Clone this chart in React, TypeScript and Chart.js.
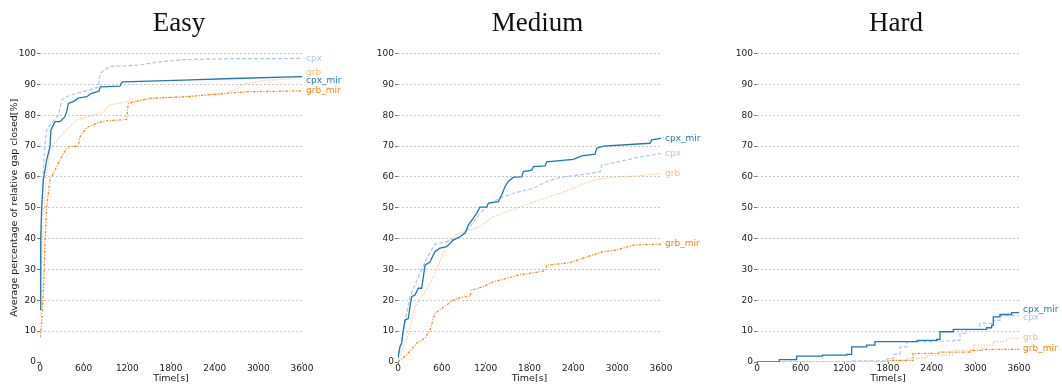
import React, { useEffect, useRef } from 'react';
import { Chart, registerables } from 'chart.js';

Chart.register(...registerables);

// ---------- data ----------
const panelTitles = ['Easy', 'Medium', 'Hard'];
const seriesNames = ['cpx_mir', 'cpx', 'grb_mir', 'grb'];
const xTickStep = 600;
const xMax = 3600;
const yTickStep = 10;
const yMax = 100;
const xAxisTitle = 'Time[s]';
const yAxisTitle = 'Average percentage of relative gap closed[%]';

// Easy
const easyCpxMirT = [0, 10, 23, 46, 92, 137, 150, 206, 275, 343, 370, 389, 458, 526, 641, 710, 779, 810, 830, 1099, 1120, 1145, 1969, 2656, 3600];
const easyCpxMirV = [17, 40, 50.3, 59, 65.5, 69.8, 75.2, 77.9, 77.9, 79.5, 81.5, 83.8, 84.4, 85.5, 86, 87.1, 87.6, 87.8, 89.2, 89.4, 90.5, 90.8, 91.4, 91.9, 92.5];
const easyCpxT = [0, 20, 46, 69, 92, 137, 252, 298, 366, 504, 687, 801, 815, 830, 962, 1191, 1374, 1649, 1969, 2600, 3600];
const easyCpxV = [20, 45, 62, 70.9, 75.2, 76.8, 80, 84.9, 86, 87.1, 88.2, 89.2, 92, 93.6, 95.8, 96, 96.3, 97.3, 98, 98.3, 98.4];
const easyGrbMirT = [0, 20, 50, 69, 92, 137, 229, 320, 389, 526, 550, 641, 779, 916, 1191, 1205, 1213, 1511, 2015, 2565, 2840, 3600];
const easyGrbMirV = [8, 12, 25, 39.5, 50.3, 59, 63.3, 67.6, 69.8, 70, 73, 76, 77.4, 78.2, 78.6, 82, 83.8, 85.5, 86, 87.1, 87.6, 87.9];
const easyGrbT = [0, 30, 60, 92, 137, 252, 366, 504, 733, 870, 962, 1191, 1603, 2015, 2565, 2840, 3115, 3435, 3600];
const easyGrbV = [15, 40, 52, 61.1, 68.7, 72.5, 75.2, 78.4, 80, 81.1, 83.3, 84.4, 85.5, 86, 87.1, 90.3, 91.4, 91.7, 92.6];

// Medium
const medCpxMirT = [0, 27, 50, 73, 96, 141, 164, 187, 233, 278, 324, 347, 370, 438, 507, 575, 667, 757, 849, 917, 963, 1031, 1077, 1122, 1214, 1237, 1374, 1419, 1465, 1510, 1579, 1693, 1716, 1831, 1853, 2013, 2036, 2401, 2515, 2697, 2720, 2811, 3450, 3473, 3600];
const medCpxMirV = [1.5, 5, 6, 10.4, 13.6, 14.1, 17.9, 21.2, 21.7, 23.9, 23.9, 27.6, 31.4, 32.5, 35.8, 36.9, 37.4, 39.5, 40.6, 41.7, 44.4, 46.6, 48.2, 50.2, 50.2, 51.5, 52, 54.1, 56.8, 58.5, 59.9, 60, 61.7, 62.2, 63.3, 63.6, 64.9, 65.7, 66.8, 67.4, 69.3, 70, 70.9, 72, 72.5];
const medCpxT = [0, 50, 164, 301, 393, 507, 667, 849, 986, 1122, 1259, 1396, 1579, 1853, 2036, 2218, 2629, 2766, 2789, 3131, 3268, 3600];
const medCpxV = [1, 7.1, 21.2, 28.7, 33.6, 38.2, 39, 40.6, 43.9, 48.2, 51.4, 53.1, 54.7, 56.3, 58.5, 59.8, 61.1, 61.7, 63.8, 65.5, 66.3, 67.6];
const medGrbMirT = [0, 119, 256, 370, 438, 507, 575, 667, 757, 849, 986, 1008, 1168, 1305, 1488, 1670, 1853, 2013, 2036, 2354, 2583, 2811, 2994, 3222, 3542, 3600];
const medGrbMirV = [0.1, 2.3, 6.1, 7.7, 10.4, 15.8, 16.9, 18.5, 20.1, 20.8, 21.4, 23.3, 24.4, 26, 27.1, 28.4, 28.9, 29.6, 31.4, 32.2, 34.1, 35.8, 36.3, 37.9, 38.2, 38.2];
const medGrbT = [0, 73, 141, 233, 324, 415, 507, 598, 667, 800, 986, 1122, 1305, 1488, 1670, 1944, 2218, 2400, 2492, 2674, 2948, 3268, 3600];
const medGrbV = [0.5, 5, 9.3, 17.9, 21.2, 24.4, 28.7, 34.1, 38.5, 41.5, 42.8, 43.9, 47.1, 48.7, 50.3, 52.5, 54.7, 56.3, 57.4, 59, 59.9, 60.3, 61.1];

// Hard (step events)
const hardCpxMirT = [0, 306, 545, 900, 1232, 1301, 1507, 1621, 2200, 2469, 2514, 2697, 3155, 3224, 3247, 3339, 3500, 3600];
const hardCpxMirV = [0, 0.8, 1.9, 2.2, 2.5, 4.9, 5.5, 6.6, 7.0, 7.3, 9.8, 10.6, 11.1, 11.9, 14.6, 15.4, 16.0, 16.3];
const hardCpxT = [0, 1300, 1786, 1873, 1965, 2057, 2423, 2700, 2790, 2880, 3063, 3247, 3339, 3600];
const hardCpxV = [0, 0.4, 1.1, 2.5, 4.9, 6.6, 6.8, 7.0, 9.3, 10.5, 12.5, 13.5, 15.0, 15.2];
const hardGrbMirT = [0, 1800, 2143, 2514, 2927, 3100, 3600];
const hardGrbMirV = [0, 0.5, 2.8, 3.2, 3.8, 4.1, 4.2];
const hardGrbT = [0, 1800, 2057, 2332, 2697, 2972, 3247, 3431, 3600];
const hardGrbV = [0, 0.5, 1.2, 2.2, 3.8, 5.5, 6.6, 7.7, 8.0];

const panelSeries = [
  [[easyCpxMirT, easyCpxMirV], [easyCpxT, easyCpxV], [easyGrbMirT, easyGrbMirV], [easyGrbT, easyGrbV]],
  [[medCpxMirT, medCpxMirV], [medCpxT, medCpxV], [medGrbMirT, medGrbMirV], [medGrbT, medGrbV]],
  [[hardCpxMirT, hardCpxMirV], [hardCpxT, hardCpxV], [hardGrbMirT, hardGrbMirV], [hardGrbT, hardGrbV]],
];
const panelStepped = [false, false, true];

// ---------- styles / layout ----------
const seriesStyles = [
  { color: '#1f77b4', dash: [] as number[], width: 1.3 },
  { color: '#aec7e8', dash: [4, 2], width: 1.2 },
  { color: '#ff7f0e', dash: [2.5, 1.5, 1, 1.5], width: 1.2 },
  { color: '#ffbb78', dash: [1.2, 1.6], width: 1.1 },
];
const panelLayout = [
  { left: 0, width: 358, padRight: 56 },
  { left: 358, width: 359, padRight: 56 },
  { left: 717, width: 345, padRight: 43 },
];
const SANS = "'DejaVu Sans', sans-serif";
const TEXT = '#1a1a1a';

const titlePlugin = {
  id: 'panelTitle',
  afterDraw(chart: any, _args: any, opts: any) {
    const { ctx, chartArea } = chart;
    ctx.save();
    ctx.font = "27px 'Liberation Serif', serif";
    ctx.fillStyle = '#111';
    ctx.textAlign = 'center';
    ctx.textBaseline = 'alphabetic';
    ctx.fillText(opts.text, (chartArea.left + chartArea.right) / 2 + 8, 31);
    ctx.restore();
  },
};

const endLabelPlugin = {
  id: 'endLabels',
  afterDatasetsDraw(chart: any) {
    const { ctx, chartArea } = chart;
    const yScale = chart.scales.y;
    const items = chart.data.datasets.map((ds: any) => {
      const last = ds.data[ds.data.length - 1];
      return { text: ds.label, color: ds.borderColor, y: yScale.getPixelForValue(last.y) };
    });
    items.sort((a: any, b: any) => a.y - b.y);
    const gap = 7.8;
    for (let it = 0; it < 200; it++) {
      for (let i = 1; i < items.length; i++) {
        const d = items[i].y - items[i - 1].y;
        if (d < gap) {
          const s = (gap - d) / 2;
          items[i].y += s;
          items[i - 1].y -= s;
        }
      }
    }
    ctx.save();
    ctx.font = `9px ${SANS}`;
    ctx.textAlign = 'left';
    ctx.textBaseline = 'middle';
    for (const it of items) {
      ctx.fillStyle = it.color;
      ctx.fillText(it.text, chartArea.right + 4, it.y);
    }
    ctx.restore();
  },
};

function buildConfig(p: number): any {
  const datasets = panelSeries[p].map(([ts, vs], i) => ({
    label: seriesNames[i],
    data: ts.map((t, k) => ({ x: t, y: vs[k] })),
    borderColor: seriesStyles[i].color,
    borderDash: seriesStyles[i].dash,
    borderWidth: seriesStyles[i].width,
    pointRadius: 0,
    fill: false,
    tension: 0,
    stepped: panelStepped[p],
  }));
  return {
    type: 'line',
    data: { datasets },
    plugins: [titlePlugin, endLabelPlugin],
    options: {
      animation: false,
      responsive: false,
      events: [],
      layout: { padding: { left: 0, right: panelLayout[p].padRight, top: 53.5, bottom: 0 } },
      plugins: {
        legend: { display: false },
        tooltip: { enabled: false },
        title: { display: false },
        panelTitle: { text: panelTitles[p] },
      },
      scales: {
        x: {
          type: 'linear',
          min: 0,
          max: xMax,
          ticks: {
            stepSize: xTickStep,
            color: TEXT,
            padding: 0,
            font: { family: SANS, size: 9, lineHeight: 1 },
            callback: (v: any) => String(v),
          },
          grid: { drawOnChartArea: false, tickLength: 2, tickColor: '#555', tickWidth: 0.8 },
          border: { display: false },
          title: { display: true, text: xAxisTitle, color: TEXT, font: { family: SANS, size: 9.5 }, padding: { top: 0, bottom: 4 } },
          afterFit: (s: any) => { s.height = 26; },
        },
        y: {
          min: 0,
          max: yMax,
          ticks: {
            stepSize: yTickStep,
            color: TEXT,
            padding: 1,
            font: { family: SANS, size: 9, lineHeight: 1 },
            callback: (v: any) => String(v),
          },
          grid: {
            color: (c: any) => (c.tick && c.tick.value === 0 ? 'rgba(0,0,0,0)' : '#b8b8b8'),
            lineWidth: 0.8,
            tickLength: 3,
            tickColor: '#555',
            tickWidth: 0.8,
          },
          border: { display: false, dash: [2, 2] },
          title: { display: p === 0, text: yAxisTitle, color: TEXT, font: { family: SANS, size: 9.5 }, padding: { top: 9, bottom: 0 } },
          afterFit: (s: any) => { s.width = 40; },
        },
      },
    },
  };
}

function Panel({ p }: { p: number }) {
  const ref = useRef<HTMLCanvasElement>(null);
  useEffect(() => {
    const chart = new Chart(ref.current as HTMLCanvasElement, buildConfig(p));
    return () => chart.destroy();
  }, [p]);
  const L = panelLayout[p];
  return (
    <canvas
      ref={ref}
      width={L.width}
      height={388}
      style={{ position: 'absolute', left: L.left, top: 0, width: L.width, height: 388 }}
    />
  );
}

export default function App() {
  return (
    <div style={{ position: 'absolute', left: 0, top: 0, width: 1062, height: 388, background: '#fff' }}>
      {panelTitles.map((_, i) => (
        <Panel key={i} p={i} />
      ))}
    </div>
  );
}
